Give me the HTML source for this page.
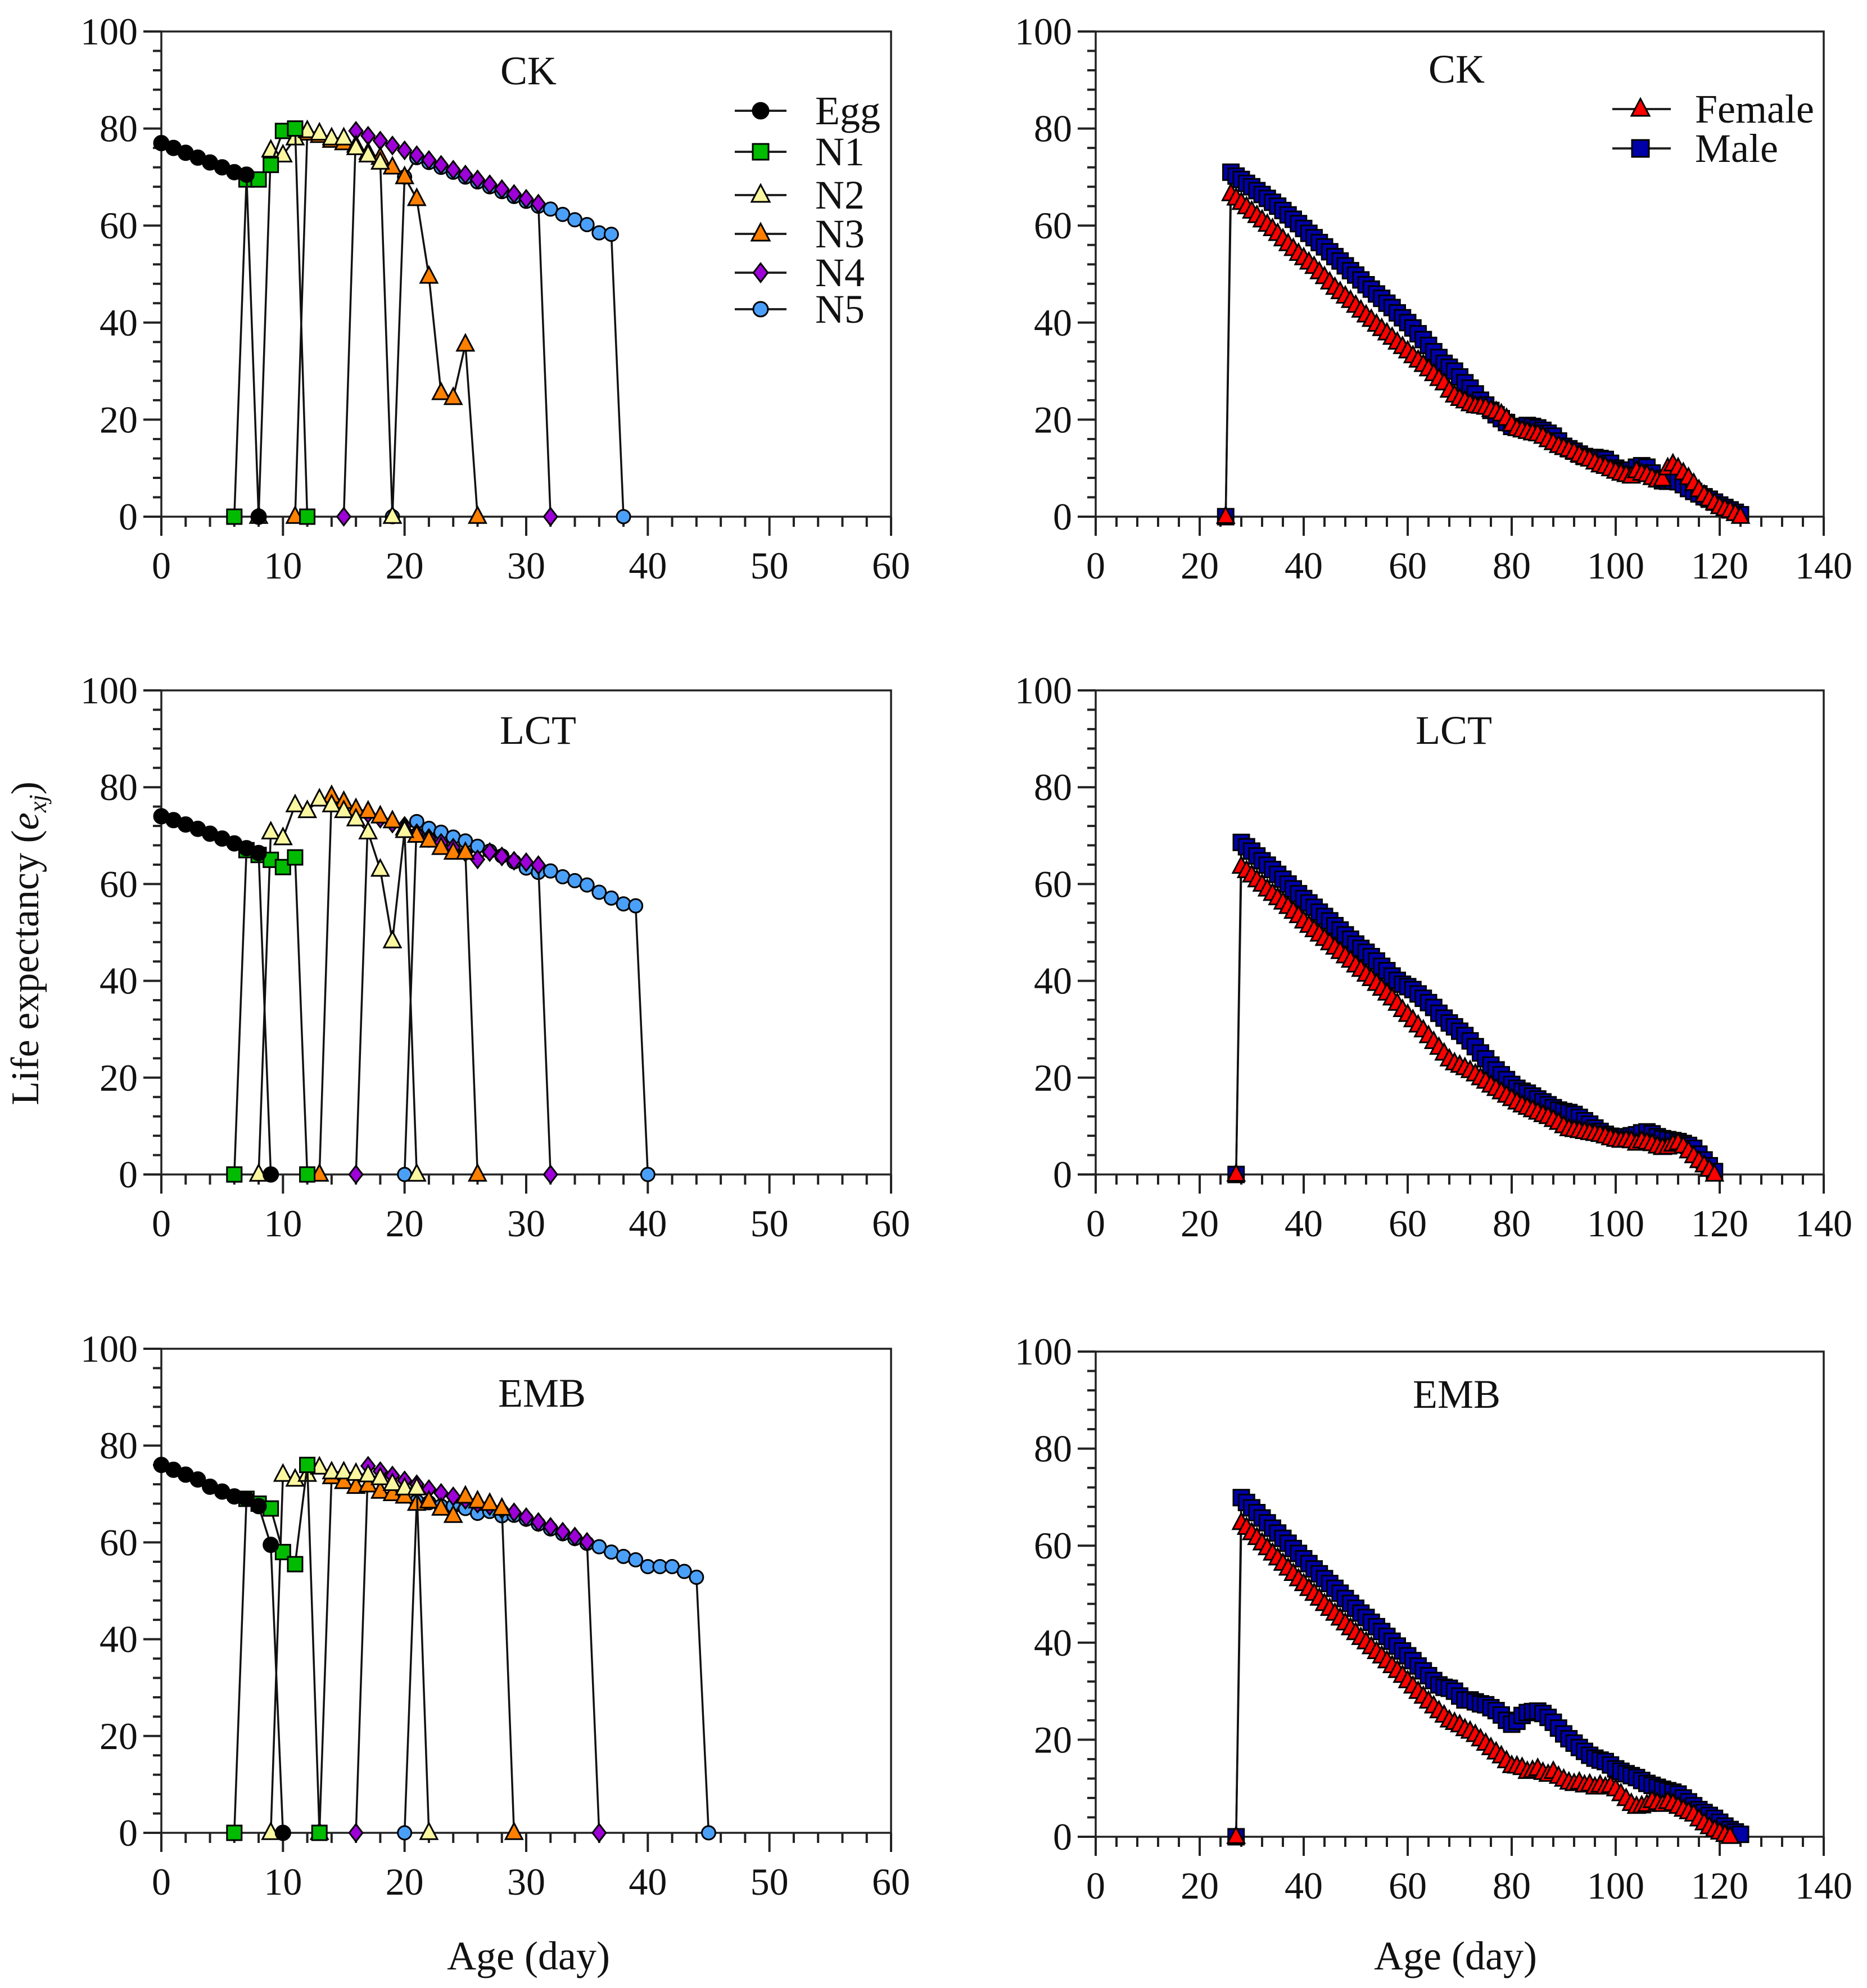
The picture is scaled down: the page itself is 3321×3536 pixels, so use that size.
<!DOCTYPE html>
<html><head><meta charset="utf-8">
<style>
html,body{margin:0;padding:0;background:#fff;}
svg{display:block;font-family:"Liberation Serif","DejaVu Serif",serif;}
</style></head>
<body>
<svg id="fig" xmlns="http://www.w3.org/2000/svg" width="3321" height="3536" viewBox="0 0 3321 3536">
<rect width="3321" height="3536" fill="#fff"/>
</svg>
<script>
// ---------- Left panels: stage-specific life expectancy (consecutive ages from start) ----------
const stageNames = ["Egg","N1","N2","N3","N4","N5"];
// CK
const ckStart = [0,6,8,11,15,19];
const ckEgg = [77,76,75,74,73,72,71,70.5,0];
const ckN1 = [0,69.5,69.5,72.5,79.5,80,0];
const ckN2 = [0,75.5,74.5,78,79.5,79,78,78,76,74.5,73,0];
const ckN3 = [0,79,78.5,77.5,77,76.5,75,74,72,70,65.5,49.5,25.5,24.5,35.5,0];
const ckN4 = [0,79.5,78.5,77.5,76.5,75.5,74.5,73.5,72.5,71.5,70.5,69.5,68.5,67.5,66.5,65.5,64.5,0];
const ckN5 = [0,70,74,73,72,71,70,69,68,67,66,65,64,63.4,62.3,61.2,60.2,58.5,58.2,0];
// LCT
const lctStart = [0,6,8,13,16,20];
const lctEgg = [74,73.2,72.3,71.4,70.4,69.4,68.4,67.4,66.4,0];
const lctN1 = [0,67,66,65,63.5,65.5,0];
const lctN2 = [0,70.7,69.5,76.3,75.1,77.5,76.3,75.1,73.4,70.7,63,48.2,71,0];
const lctN3 = [0,78.2,77,75.5,75,74,73,71.5,70,69,67.5,66.5,66.5,0];
const lctN4 = [0,74.5,73.5,72.5,72,70.5,69.5,68.5,67.5,66.5,65.1,66.6,65.7,64.8,64.5,63.9,0];
const lctN5 = [0,72.9,71.5,70.7,69.7,68.9,67.8,66.8,65.8,64.6,63.3,62.4,62.7,61.5,60.7,59.8,58.3,57.1,55.9,55.5,0];
// EMB
const embStart = [0,6,9,13,16,20];
const embEgg = [76,75,74,73,71.5,70.5,69.5,69,67.5,59.5,0];
const embN1 = [0,69,68,67,58,55.5,76,0];
const embN2 = [0,74,73,74,75.5,74.5,74.5,74.2,73.9,73.3,72.1,71.2,71.2,0];
const embN3 = [0,73.5,72.5,71.5,71.8,70.5,70,69.5,68,68.5,67,65.5,69.5,68.5,68,67,0];
const embN4 = [0,75.8,74.7,73.8,72.8,72,71,70.2,69.5,68.8,68,67.5,66.8,66.2,65.2,64.2,63.2,62.2,61.2,60.1,0];
const embN5 = [0,68.5,68.2,67.5,67.5,67,66,66.4,65.5,65.6,64.8,63.8,62.8,61.8,60.8,59.8,59.1,58,57.1,56.4,55,55,55,54,52.8,0];

// ---------- Right panels: female / male (consecutive ages from start) ----------
const sexNames = ["Female","Male"];
const ckSexStart = [25,25];
const ckFemale = [0,66.5,65.6,64.7,63.8,62.9,62.0,61.1,60.2,59.3,58.3,57.2,56.2,55.2,54.2,53.3,52.4,51.5,50.4,49.4,48.3,47.2,46.3,45.4,44.5,43.5,42.5,41.5,40.6,39.6,38.7,37.8,36.9,35.9,35.0,34.1,33.1,32.2,31.3,30.4,29.4,28.4,27.5,26.0,25.0,24.3,23.8,23.2,22.8,22.7,22.5,22.0,21.6,21.1,20.2,19.0,18.1,17.8,17.5,17.2,17.0,16.5,15.8,15.2,14.6,14.2,13.8,13.3,12.7,12.2,11.8,11.2,10.6,10.3,9.8,9.3,8.9,8.6,8.3,9.4,8.9,8.6,8.0,7.5,7.7,10.0,10.8,10.0,9.0,8.0,6.8,5.5,4.4,3.6,2.8,2.0,1.6,1.2,0.6,0];
const ckMale = [0,71.0,70.2,69.5,68.7,68.0,67.2,66.4,65.6,64.8,64.0,63.1,62.2,61.3,60.4,59.4,58.4,57.5,56.5,55.6,54.6,53.6,52.7,51.7,50.7,49.8,48.8,47.8,46.9,45.9,45.0,44.0,43.1,42.0,41.0,40.0,38.9,37.7,36.5,35.3,34.0,32.8,31.6,30.8,30.0,28.8,27.6,26.5,25.3,24.0,23.0,21.9,21.0,20.2,19.4,18.6,18.4,18.6,18.8,18.6,18.3,17.8,17.2,16.6,15.6,14.5,14.0,13.5,12.9,12.4,12.2,12.2,12.0,11.8,11.0,10.0,9.6,9.4,9.6,10.2,10.5,10.2,9.0,7.8,7.4,7.3,7.4,7.2,6.6,5.8,5.2,4.7,4.1,3.6,3.0,2.4,1.9,1.4,0.9,0.4];
const lctSexStart = [27,27];
const lctFemale = [0,63.6,62.7,61.8,60.8,59.9,58.9,58.0,57.1,56.2,55.3,54.3,53.4,52.3,51.4,50.5,49.6,48.7,47.8,46.9,46.0,45.1,44.2,43.2,42.3,41.3,40.4,39.4,38.4,37.4,36.4,35.3,34.0,33.0,31.9,30.8,29.8,28.6,27.4,26.2,25.0,23.8,23.0,22.5,22.0,21.4,20.7,19.9,19.2,18.4,17.7,17.0,16.3,15.6,14.9,14.3,13.8,13.3,12.8,12.3,11.9,11.3,10.7,10.0,9.4,9.2,9.0,8.8,8.6,8.4,8.2,7.9,7.5,7.2,7.0,7.1,6.9,6.4,6.9,6.6,6.3,5.8,5.5,5.6,6.2,6.5,5.8,4.8,3.8,2.8,1.9,1.0,0];
const lctMale = [0,68.6,67.7,66.8,65.8,64.8,63.9,63.0,62.0,61.0,60.0,59.0,58.0,57.0,56.1,55.2,54.2,53.3,52.4,51.4,50.5,49.5,48.6,47.6,46.7,45.9,45.0,44.1,43.0,42.1,41.0,40.1,39.3,38.8,38.2,37.3,36.4,35.5,34.5,33.3,32.3,31.3,30.5,29.6,28.7,27.6,26.4,25.1,23.9,22.6,21.6,20.6,19.6,18.6,17.8,17.2,16.8,16.2,15.6,15.0,14.4,13.8,13.3,13.0,12.8,12.4,11.8,11.1,10.4,9.6,8.9,8.3,7.9,7.6,7.6,7.8,8.0,8.2,8.6,8.8,8.4,7.8,7.4,7.2,7.0,6.8,6.4,6.0,5.4,4.2,3.0,1.8,0.6];
const embSexStart = [27,27];
const embFemale = [0,64.7,63.7,62.6,61.6,60.5,59.5,58.4,57.4,56.3,55.3,54.2,53.1,52.1,51.1,50.1,49.1,48.0,47.0,46.0,45.0,44.0,43.0,42.0,41.0,40.1,39.1,38.1,37.2,36.2,35.2,34.2,33.2,32.1,31.0,29.9,28.9,27.9,26.9,25.9,25.0,24.0,23.5,23.0,22.2,21.7,21.0,20.1,19.2,18.3,17.4,16.6,15.6,14.6,14.5,14.2,13.4,13.6,14.0,13.2,12.8,13.4,12.4,11.8,11.2,10.9,11.2,10.6,10.8,10.2,10.6,10.2,10.5,9.8,8.8,7.8,6.8,6.2,6.3,6.6,7.4,7.0,6.6,7.2,6.8,6.2,5.6,5.1,4.6,3.6,2.8,2.0,1.4,0.9,0.4,0];
const embMale = [0,69.9,68.9,67.8,66.8,65.7,64.7,63.6,62.6,61.5,60.5,59.4,58.4,57.3,56.3,55.2,54.2,53.2,52.2,51.2,50.2,49.1,48.1,47.1,46.1,45.2,44.2,43.3,42.3,41.3,40.3,39.3,38.3,37.3,36.3,35.2,34.2,33.2,32.2,31.3,30.8,30.6,30.0,29.0,28.2,28.2,27.8,27.4,27.2,26.6,26.0,25.1,24.0,23.2,23.8,25.0,25.6,25.8,25.9,25.4,24.6,23.6,22.4,21.2,20.2,19.3,18.4,17.6,16.8,16.2,15.8,15.5,14.8,14.0,13.5,13.0,12.6,12.2,11.6,11.0,10.6,10.2,9.8,9.5,9.2,8.8,8.0,7.2,6.4,5.6,5.0,4.4,3.8,3.0,2.2,1.5,1.0,0.5];

// ---------- tick labels ----------
const yTicks = [0,20,40,60,80,100];
const xTicksLeft = [0,10,20,30,40,50,60];
const xTicksRight = [0,20,40,60,80,100,120,140];

// ---------- rendering ----------
const NS = "http://www.w3.org/2000/svg";
const svg = document.getElementById("fig");
function mk(tag, attrs, parent){
  const e = document.createElementNS(NS, tag);
  for (const k in attrs) e.setAttribute(k, attrs[k]);
  (parent||svg).appendChild(e);
  return e;
}
function xScale(p, v){ return p.x0 + (v - p.xmin) / (p.xmax - p.xmin) * (p.x1 - p.x0); }
function yScale(p, v){ return p.y0 - v / 100 * (p.y0 - p.y1); }

const styles = {
  Egg:{shape:"circle", fill:"#000000", size:13},
  N1:{shape:"square", fill:"#00bb00", size:13},
  N2:{shape:"triangle", fill:"#fbf7a0", size:15},
  N3:{shape:"triangle", fill:"#ff8000", size:15},
  N4:{shape:"diamond", fill:"#9e00d8", size:14},
  N5:{shape:"circle", fill:"#4aa0f8", size:12},
  Female:{shape:"triangle", fill:"#ff0000", size:15},
  Male:{shape:"square", fill:"#0000a8", size:14}
};
function marker(g, shape, cx, cy, s, fill){
  let e;
  if (shape === "circle") e = mk("circle", {cx:cx, cy:cy, r:s}, g);
  else if (shape === "square") e = mk("rect", {x:cx-s, y:cy-s, width:2*s, height:2*s}, g);
  else if (shape === "triangle") e = mk("polygon", {points:`${cx},${cy-s*1.15} ${cx-s},${cy+s*0.75} ${cx+s},${cy+s*0.75}`}, g);
  else e = mk("polygon", {points:`${cx},${cy-s*1.1} ${cx+s*0.85},${cy} ${cx},${cy+s*1.1} ${cx-s*0.85},${cy}`}, g);
  e.setAttribute("fill", fill);
  e.setAttribute("stroke", "#000");
  e.setAttribute("stroke-width", "3");
  return e;
}

function drawAxes(p, xticks, minorStep, name){
  const g = mk("g", {});
  
  
  // frame
  const fr = mk("rect", {x:p.x0, y:p.y1, width:p.x1-p.x0, height:p.y0-p.y1, fill:"none", stroke:"#222", "stroke-width":3.5}, g);
  
  
  // y ticks
  for (let v = 0; v <= 100; v += 4){
    const y = yScale(p, v);
    const major = (v % 20 === 0);
    mk("line", {x1:p.x0 - (major?32:15), x2:p.x0, y1:y, y2:y, stroke:"#222", "stroke-width":4}, g);
  }
  yTicks.forEach(v => {
    const t = mk("text", {x:p.x0 - 42, y:yScale(p, v) + 23, "text-anchor":"end", "font-size":68, fill:"#111"}, g);
    t.textContent = v;
    
    
  });
  // x ticks
  for (let v = p.xmin; v <= p.xmax + 1e-9; v += minorStep){
    const x = xScale(p, v);
    const major = (Math.round(v) % (minorStep*5) === 0);
    mk("line", {x1:x, x2:x, y1:p.y0, y2:p.y0 + (major?34:18), stroke:"#222", "stroke-width":4}, g);
  }
  xticks.forEach(v => {
    const t = mk("text", {x:xScale(p, v), y:p.y0 + 110, "text-anchor":"middle", "font-size":68, fill:"#111"}, g);
    t.textContent = v;
    
    
  });
}

function drawSeries(p, name, label, start, vals){
  const st = styles[label];
  const g = mk("g", {});
  
  
  const pts = vals.map((v,i) => [xScale(p, start + i), yScale(p, v)]);
  const pl = mk("polyline", {points: pts.map(q => q.join(",")).join(" "), fill:"none", stroke:"#111", "stroke-width":3.5}, g);
  
  
  pts.forEach(q => {
    const m = marker(g, st.shape, q[0], q[1], st.size, st.fill);
    
    
  });
}

function title(txt, x, y, name){
  const t = mk("text", {x:x, y:y, "text-anchor":"middle", "font-size":72, fill:"#111"});
  t.textContent = txt;
  
  
}

const leftPanels = [
  {name:"ck-stage", title:"CK", tx:940, ty:150, y1:56, y0:919, start:ckStart, data:[ckEgg,ckN1,ckN2,ckN3,ckN4,ckN5]},
  {name:"lct-stage", title:"LCT", tx:957, ty:1323, y1:1228, y0:2089, start:lctStart, data:[lctEgg,lctN1,lctN2,lctN3,lctN4,lctN5]},
  {name:"emb-stage", title:"EMB", tx:964, ty:2502, y1:2399, y0:3260, start:embStart, data:[embEgg,embN1,embN2,embN3,embN4,embN5]}
];
const rightPanels = [
  {name:"ck-sex", title:"CK", tx:2591, ty:147, y1:56, y0:919, start:ckSexStart, data:[ckFemale, ckMale]},
  {name:"lct-sex", title:"LCT", tx:2586, ty:1323, y1:1228, y0:2089, start:lctSexStart, data:[lctFemale, lctMale]},
  {name:"emb-sex", title:"EMB", tx:2591, ty:2504, y1:2404, y0:3267, start:embSexStart, data:[embFemale, embMale]}
];
const drawOrder = [5,4,3,2,1,0];

leftPanels.forEach(lp => {
  const p = {x0:287, x1:1585, xmin:0, xmax:60, y0:lp.y0, y1:lp.y1};
  drawAxes(p, xTicksLeft, 2, lp.name);
  title(lp.title, lp.tx, lp.ty, lp.name + '-title');
  drawOrder.forEach(i => drawSeries(p, lp.name, stageNames[i], lp.start[i], lp.data[i]));
});
rightPanels.forEach(rp => {
  const p = {x0:1949, x1:3244, xmin:0, xmax:140, y0:rp.y0, y1:rp.y1};
  drawAxes(p, xTicksRight, 4, rp.name);
  title(rp.title, rp.tx, rp.ty, rp.name + '-title');
  drawSeries(p, rp.name, "Male", rp.start[1], rp.data[1]);
  drawSeries(p, rp.name, "Female", rp.start[0], rp.data[0]);
});

// legends
function legend(entries, lx1, lx2, mx, tx, ys, name){
  const g = mk("g", {});
  
  
  entries.forEach((lab, i) => {
    const st = styles[lab];
    const e = mk("g", {}, g);
    
    
    mk("line", {x1:lx1, x2:lx2, y1:ys[i], y2:ys[i], stroke:"#222", "stroke-width":4}, e);
    marker(e, st.shape, mx, ys[i], st.size + 1, st.fill);
    const t = mk("text", {x:tx, y:ys[i] + 24, "font-size":72, fill:"#111"}, e);
    t.textContent = lab;
  });
}
legend(stageNames, 1307, 1399, 1353, 1450, [197,270,347,416,485,550], 'stage-legend');
legend(sexNames, 2868, 2972, 2918, 3015, [194,264], 'sex-legend');

// axis titles
const yt = mk("text", {x:0, y:0, "text-anchor":"middle", "font-size":70, fill:"#111", transform:"translate(68,1678) rotate(-90)"});


yt.innerHTML = 'Life expectancy (<tspan font-style="italic">e</tspan><tspan font-style="italic" font-size="44" dy="14">xj</tspan><tspan dy="-14">)</tspan>';
[[940,"x-axis-title-left"],[2589,"x-axis-title-right"]].forEach(a => {
  const t = mk("text", {x:a[0], y:3503, "text-anchor":"middle", "font-size":72, fill:"#111"});
  t.textContent = "Age (day)";
  
  
});
</script>
</body></html>
